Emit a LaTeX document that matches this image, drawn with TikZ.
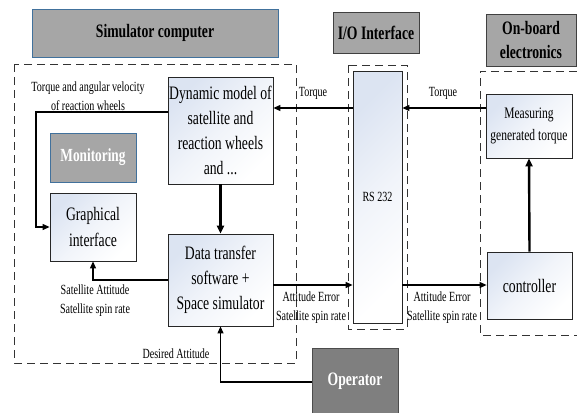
\documentclass[tikz,border=0pt]{standalone}
\usepackage{fontspec}
\setmainfont{Liberation Serif}[FakeStretch=0.72]
\usetikzlibrary{arrows.meta}
\definecolor{boxblue}{HTML}{DCE4F2}
\definecolor{hdrgray}{HTML}{A6A6A6}
\definecolor{hdrblue}{HTML}{41719C}
\definecolor{opgray}{HTML}{7F7F7F}
\tikzset{
  box/.style={draw=black!85, line width=0.8pt, top color=boxblue, bottom color=white, middle color=white!60!boxblue, shading angle=45,
    align=center, inner sep=0pt, font=\fontsize{19}{25}\selectfont},
  hdr/.style={draw=black!75, line width=0.8pt, fill=hdrgray, align=center, inner sep=0pt,
    font=\bfseries\fontsize{19}{25}\selectfont},
  lbl/.style={align=center, inner sep=0pt, font=\fontsize{14}{19}\selectfont},
  dbox/.style={dashed, dash pattern=on 8pt off 5pt, line width=0.8pt, draw=black!80},
  arr/.style={line width=1.1pt, -{Triangle[length=7pt,width=6pt]}},
  tarr/.style={line width=2.4pt, -{Triangle[length=8pt,width=7pt]}},
  ln/.style={line width=1.1pt},
}
\begin{document}
\begin{tikzpicture}[x=1pt,y=-1pt]
\useasboundingbox (0,0) rectangle (577,412);
% dashed groups
\draw[dbox] (14,64) rectangle (296,363);
\draw[dbox] (348,65) rectangle (407,329);
\draw[dbox] (577,71) -- (480,71) -- (480,335) -- (577,335);
% headers
\node[hdr, draw=hdrblue, minimum width=246pt, minimum height=48pt] (simh) at (155,33) {Simulator computer};
\node[hdr, minimum width=86pt, minimum height=41pt] (ioh) at (376,32.5) {I/O Interface};
\node[hdr, minimum width=90pt, minimum height=52pt, font=\bfseries\fontsize{19}{24}\selectfont] (obh) at (531,40) {On-board\\electronics};
% boxes
\node[box, minimum width=105pt, minimum height=107pt] (dyn) at (220.5,130.5) {Dynamic model of\\satellite and\\reaction wheels\\and ...};
\node[hdr, draw=hdrblue, text=white, minimum width=86pt, minimum height=49pt, font=\bfseries\fontsize{18.5}{24}\selectfont] (mon) at (93,157.5) {Monitoring};
\node[box, minimum width=86pt, minimum height=68pt, font=\fontsize{19}{26}\selectfont] (gui) at (93,227) {Graphical\\interface};
\node[box, minimum width=105pt, minimum height=92pt] (dts) at (220.5,280) {Data transfer\\software +\\Space simulator};
\node[box, minimum width=49pt, minimum height=252pt, font=\fontsize{14}{18}\selectfont] (rs) at (377.5,197) {RS 232};
\node[box, minimum width=86pt, minimum height=64pt, font=\fontsize{16}{22}\selectfont] (meas) at (529,126) {Measuring\\generated torque};
\node[box, minimum width=85pt, minimum height=67pt] (ctrl) at (529.5,285.5) {controller};
\node[hdr, fill=opgray, draw=black!70, text=white, minimum width=86pt, minimum height=66pt] (op) at (355,381) {Operator};
% helper coordinates
\coordinate (ty) at (0,108);
\coordinate (ay) at (0,285);
\coordinate (wy) at (0,112);
\coordinate (wx) at (36,0);
\coordinate (gy) at (0,227);
\coordinate (sy) at (0,280);
\coordinate (sx) at (93,0);
\coordinate (oy) at (0,382);
% connectors
\draw[arr] (meas.west |- ty) -- (rs.east |- ty);
\draw[arr] (rs.west |- ty) -- (dyn.east |- ty);
\draw[arr] (dts.east |- ay) -- (rs.west |- ay);
\draw[arr] (rs.east |- ay) -- (ctrl.west |- ay);
\draw[tarr] (ctrl.north) -- (meas.south);
\draw[tarr] (dyn.south) -- (dts.north);
\draw[arr] (dyn.west |- wy) -- (wx |- wy) -- (wx |- gy) -- (gui.west |- gy);
\draw[arr] (dts.west |- sy) -- (sx |- sy) -- (gui.south);
\draw[arr] (op.west |- oy) -- (dts.south |- oy) -- (dts.south);
% labels
\node[lbl] (l1) at (88,96) {Torque and angular velocity\\of reaction wheels};
\node[lbl] (l2) at (95,301) {Satellite Attitude\\Satellite spin rate};
\node[lbl] (l3) at (176,354) {Desired Attitude};
\node[lbl] (l4) at (313,93) {Torque};
\node[lbl] (l5) at (443,93) {Torque};
\node[lbl] (l6) at (311,308) {Attitude Error\\Satellite spin rate};
\node[lbl] (l7) at (442,308) {Attitude Error\\Satellite spin rate};
\end{tikzpicture}
\end{document}
